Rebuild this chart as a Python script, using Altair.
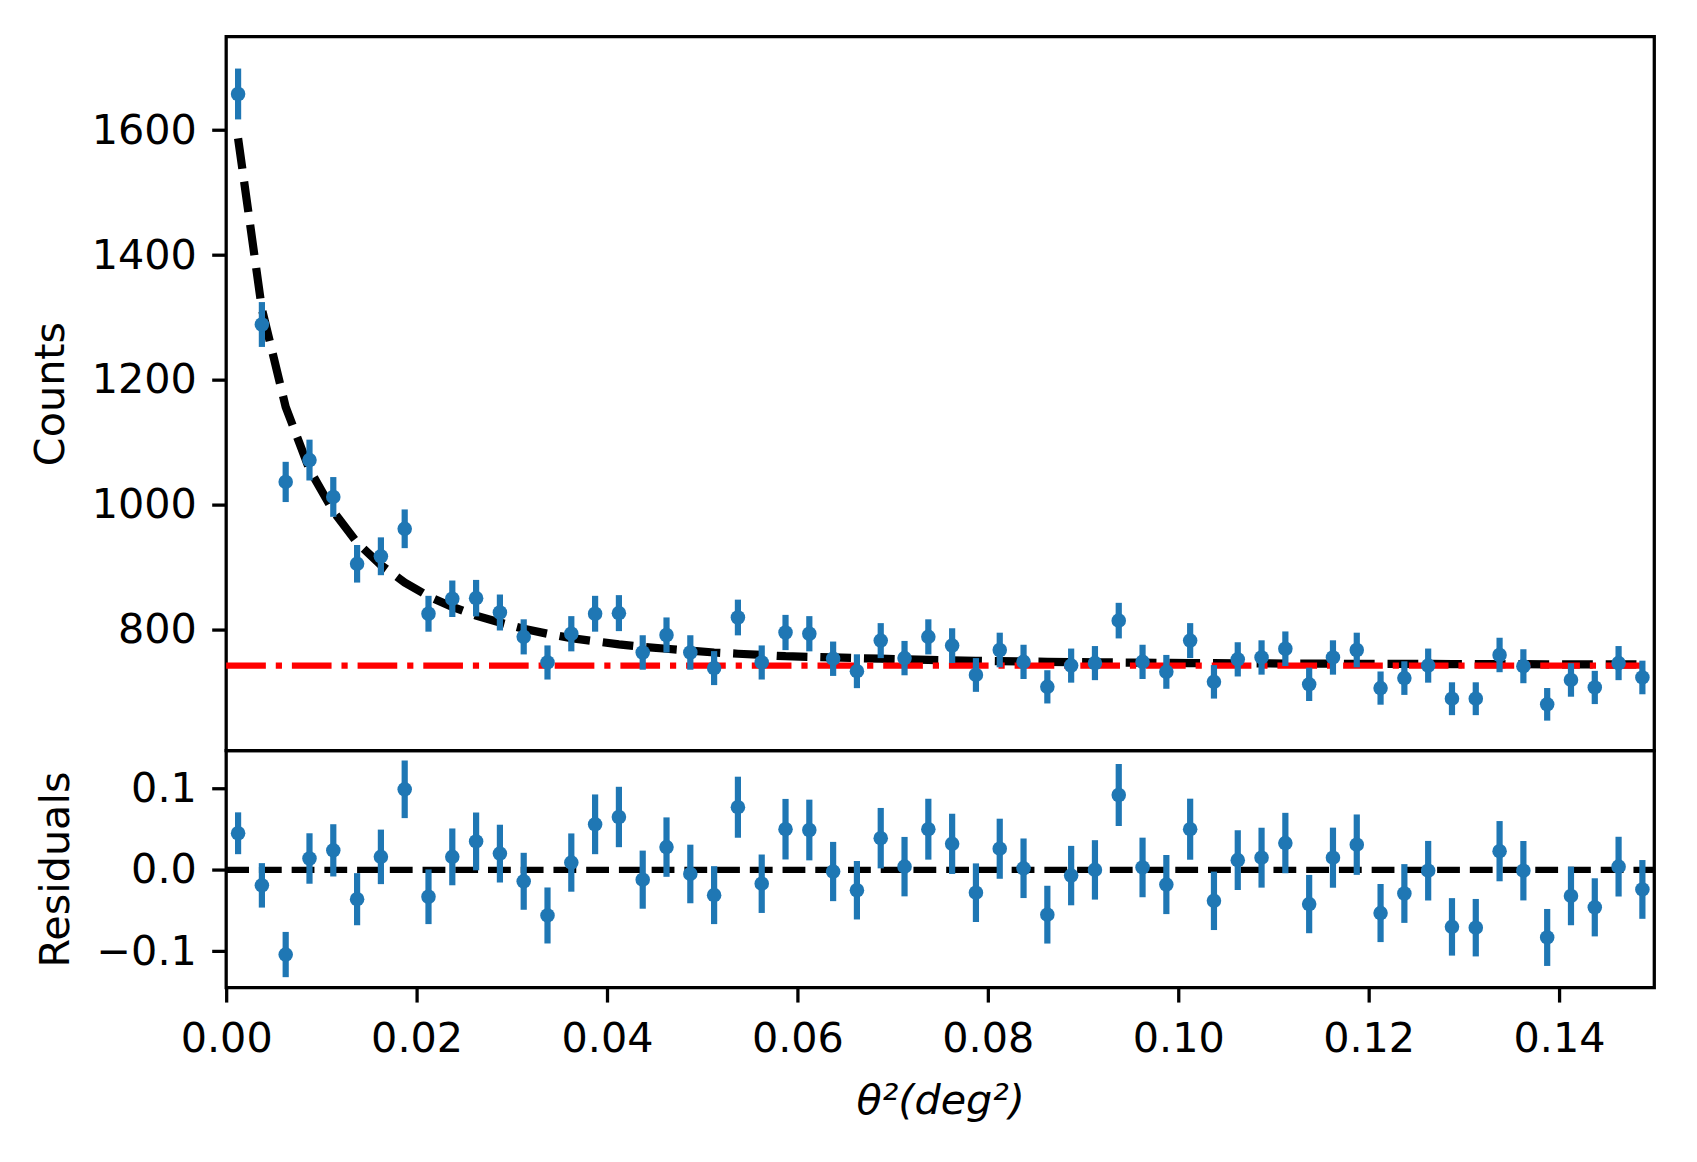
import altair as alt
import pandas as pd

# ---- data ----
theta2 = [0.00125, 0.00375, 0.00625, 0.00875, 0.01125, 0.01375, 0.01625, 0.01875, 0.02125, 0.02375,
          0.02625, 0.02875, 0.03125, 0.03375, 0.03625, 0.03875, 0.04125, 0.04375, 0.04625, 0.04875,
          0.05125, 0.05375, 0.05625, 0.05875, 0.06125, 0.06375, 0.06625, 0.06875, 0.07125, 0.07375,
          0.07625, 0.07875, 0.08125, 0.08375, 0.08625, 0.08875, 0.09125, 0.09375, 0.09625, 0.09875,
          0.10125, 0.10375, 0.10625, 0.10875, 0.11125, 0.11375, 0.11625, 0.11875, 0.12125, 0.12375,
          0.12625, 0.12875, 0.13125, 0.13375, 0.13625, 0.13875, 0.14125, 0.14375, 0.14625, 0.14875]

counts = [1658, 1289, 1037, 1072, 1013, 906, 918, 962, 826, 850,
          851, 828, 789, 748, 794, 826, 827, 764, 792, 764,
          739, 820, 748, 796, 794, 754, 734, 783, 755, 789,
          775, 728, 768, 749, 709, 743, 747, 815, 749, 733,
          783, 717, 753, 756, 770, 713, 756, 768, 707, 723,
          743, 690, 690, 760, 742, 681, 720, 708, 747, 724]

count_err = [40.7, 35.9, 32.2, 32.7, 31.8, 30.1, 30.3, 31.0, 28.7, 29.2,
             29.2, 28.8, 28.1, 27.3, 28.2, 28.7, 28.8, 27.6, 28.1, 27.6,
             27.2, 28.6, 27.3, 28.2, 28.2, 27.5, 27.1, 28.0, 27.5, 28.1,
             27.8, 27.0, 27.7, 27.4, 26.6, 27.3, 27.3, 28.5, 27.4, 27.1,
             28.0, 26.8, 27.4, 27.5, 27.7, 26.7, 27.5, 27.7, 26.6, 26.9,
             27.3, 26.3, 26.3, 27.6, 27.2, 26.1, 26.8, 26.6, 27.3, 26.9]

model = [1587, 1314, 1157, 1057, 990, 940, 904, 876, 854, 837,
         823, 812, 802, 794, 787, 782, 777, 773, 770, 767,
         764, 762, 760, 758, 757, 756, 755, 754, 753, 752,
         751.3, 750.7, 750.1, 749.6, 749.1, 748.7, 748.3, 748.0, 747.7, 747.4,
         747.1, 746.9, 746.7, 746.5, 746.3, 746.2, 746.0, 745.9, 745.8, 745.7,
         745.6, 745.5, 745.4, 745.3, 745.2, 745.1, 745.0, 744.9, 744.9, 744.8]

residuals = [0.045, -0.019, -0.104, 0.014, 0.024, -0.036, 0.016, 0.099, -0.033, 0.016,
             0.035, 0.020, -0.014, -0.056, 0.009, 0.056, 0.065, -0.012, 0.028, -0.005,
             -0.031, 0.077, -0.017, 0.050, 0.049, -0.002, -0.025, 0.039, 0.004, 0.050,
             0.032, -0.028, 0.026, 0.002, -0.055, -0.007, 0.000, 0.092, 0.003, -0.018,
             0.050, -0.038, 0.012, 0.015, 0.033, -0.042, 0.015, 0.031, -0.053, -0.029,
             -0.001, -0.070, -0.071, 0.023, -0.001, -0.083, -0.032, -0.046, 0.004, -0.024]

resid_err = [0.0257, 0.0273, 0.0278, 0.0310, 0.0321, 0.0320, 0.0335, 0.0354, 0.0336, 0.0349,
             0.0355, 0.0355, 0.0350, 0.0344, 0.0358, 0.0367, 0.0371, 0.0357, 0.0365, 0.0360,
             0.0356, 0.0375, 0.0359, 0.0372, 0.0373, 0.0364, 0.0359, 0.0371, 0.0365, 0.0374,
             0.0370, 0.0360, 0.0369, 0.0366, 0.0355, 0.0365, 0.0365, 0.0381, 0.0366, 0.0363,
             0.0375, 0.0359, 0.0367, 0.0368, 0.0371, 0.0358, 0.0369, 0.0371, 0.0357, 0.0361,
             0.0366, 0.0353, 0.0353, 0.0370, 0.0365, 0.0350, 0.0360, 0.0357, 0.0367, 0.0361]

background_x = [0.0, 0.14875]
background_y = [743, 743]
zero_x = [0.0, 0.15]
zero_y = [0.0, 0.0]

x_ticks = [0.0, 0.02, 0.04, 0.06, 0.08, 0.10, 0.12, 0.14]
count_ticks = [800, 1000, 1200, 1400, 1600]
resid_ticks = [-0.1, 0.0, 0.1]

# ---- styling ----
BLUE = "#1f77b4"
FONT = "DejaVu Sans"
FS = 41.67
LW = 6.25
MODEL_LW = 8.3

df = pd.DataFrame({"theta2": theta2, "counts": counts, "cerr": count_err,
                   "model": model, "res": residuals, "rerr": resid_err})
df["c_lo"] = df["counts"] - df["cerr"]
df["c_hi"] = df["counts"] + df["cerr"]
df["r_lo"] = df["res"] - df["rerr"]
df["r_hi"] = df["res"] + df["rerr"]

bg_df = pd.DataFrame({"x": background_x, "y": background_y})
zero_df = pd.DataFrame({"x": zero_x, "y": zero_y})

x_scale = alt.Scale(domain=[0, 0.15], nice=False, zero=False)
y_top_scale = alt.Scale(domain=[607, 1750], nice=False, zero=False)
y_bot_scale = alt.Scale(domain=[-0.1446, 0.1466], nice=False, zero=False)

y_top_axis = alt.Axis(values=count_ticks, format="d", title="Counts", titlePadding=19)
y_bot_axis = alt.Axis(values=resid_ticks, format=".1f", title="Residuals", titlePadding=19)
x_bot_axis = alt.Axis(values=x_ticks, format=".2f", title="θ²(deg²)", titlePadding=21,
                      labelFlush=False, titleFontStyle="italic", labelPadding=17)

# top panel
model_line = alt.Chart(df).mark_line(color="black", strokeWidth=MODEL_LW, strokeDash=[31, 13]).encode(
    x=alt.X("theta2:Q", scale=x_scale, axis=None),
    y=alt.Y("model:Q", scale=y_top_scale, axis=y_top_axis),
)
bg_line = alt.Chart(bg_df).mark_line(color="red", strokeWidth=LW, strokeDash=[40, 10, 6.25, 10]).encode(
    x=alt.X("x:Q", scale=x_scale, axis=None),
    y=alt.Y("y:Q", scale=y_top_scale, axis=y_top_axis),
)
c_err = alt.Chart(df).mark_rule(color=BLUE, strokeWidth=LW).encode(
    x=alt.X("theta2:Q", scale=x_scale, axis=None),
    y=alt.Y("c_lo:Q", scale=y_top_scale, axis=y_top_axis),
    y2="c_hi:Q",
)
c_pts = alt.Chart(df).mark_circle(color=BLUE, size=215, opacity=1).encode(
    x=alt.X("theta2:Q", scale=x_scale, axis=None),
    y=alt.Y("counts:Q", scale=y_top_scale, axis=y_top_axis),
)
top = alt.layer(model_line, bg_line, c_err, c_pts).properties(width=1440, height=720)

# bottom panel
zero_line = alt.Chart(zero_df).mark_line(color="black", strokeWidth=LW, strokeDash=[23, 10]).encode(
    x=alt.X("x:Q", scale=x_scale, axis=x_bot_axis),
    y=alt.Y("y:Q", scale=y_bot_scale, axis=y_bot_axis),
)
r_err = alt.Chart(df).mark_rule(color=BLUE, strokeWidth=LW).encode(
    x=alt.X("theta2:Q", scale=x_scale, axis=x_bot_axis),
    y=alt.Y("r_lo:Q", scale=y_bot_scale, axis=y_bot_axis),
    y2="r_hi:Q",
)
r_pts = alt.Chart(df).mark_circle(color=BLUE, size=215, opacity=1).encode(
    x=alt.X("theta2:Q", scale=x_scale, axis=x_bot_axis),
    y=alt.Y("res:Q", scale=y_bot_scale, axis=y_bot_axis),
)
bottom = alt.layer(zero_line, r_err, r_pts).properties(width=1440, height=239)

chart = alt.vconcat(top, bottom, spacing=0, bounds="flush").properties(
    padding={"left": 21, "top": 22, "right": 20, "bottom": 20},
    background="white",
).configure_axis(
    labelFont=FONT, titleFont=FONT, labelFontSize=FS, titleFontSize=FS,
    titleFontWeight="normal", labelColor="black", titleColor="black",
    tickColor="black", tickSize=14.6, tickWidth=3.3, domain=False, grid=False,
    labelPadding=15.5,
).configure_view(stroke="black", strokeWidth=3.3)

chart.save("out.html", embed_options={"renderer": "svg", "actions": False})
